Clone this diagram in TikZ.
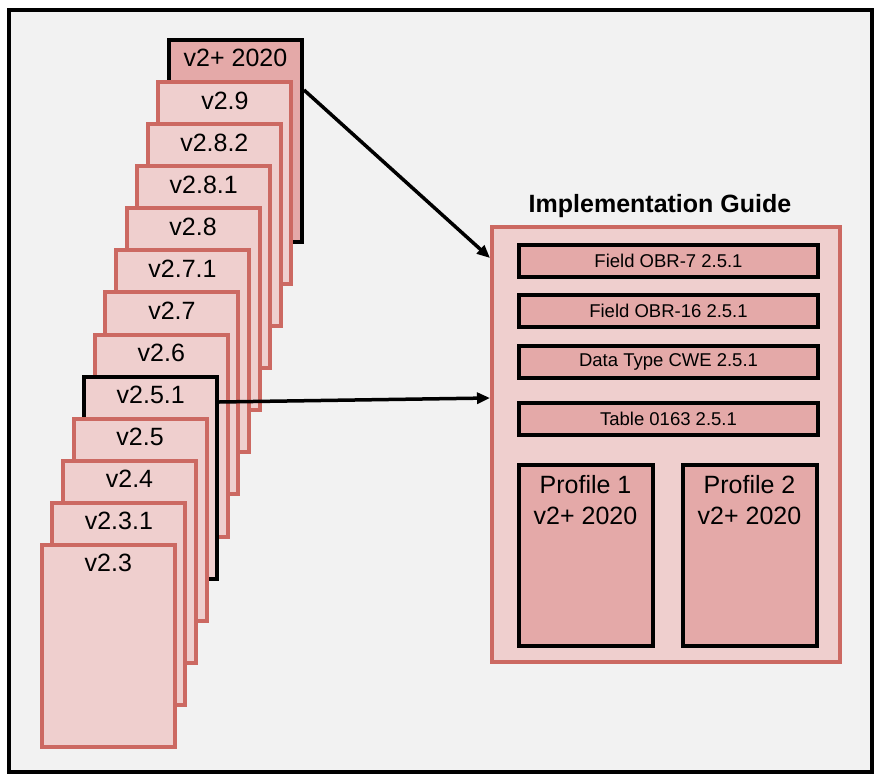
\documentclass[tikz,border=0pt]{standalone}
\usepackage{fontspec}
\setmainfont{Liberation Sans}
\usetikzlibrary{arrows.meta}
\definecolor{bgc}{HTML}{F2F2F2}
\definecolor{pagefill}{HTML}{EFCFCE}
\definecolor{darkfill}{HTML}{E4A9A8}
\definecolor{redline}{HTML}{CC6962}
\tikzset{
  pagebox/.style={draw=redline, fill=pagefill, line width=4pt, minimum width=133pt, minimum height=202pt, inner sep=0pt, anchor=north west},
  selpage/.style={pagebox, draw=black},
  toppage/.style={pagebox, draw=black, fill=darkfill},
  vlabel/.style={anchor=base, font=\fontsize{25}{30}\selectfont, inner sep=0pt},
  guidebox/.style={draw=redline, fill=pagefill, line width=4pt, inner sep=0pt},
  barbox/.style={draw=black, fill=darkfill, line width=4pt, minimum width=299pt, minimum height=32pt, inner sep=0pt, font=\fontsize{18.5}{22}\selectfont},
  profbox/.style={draw=black, fill=darkfill, line width=4pt, minimum width=134pt, minimum height=181pt, inner sep=0pt},
  proftext/.style={anchor=base, align=center, inner sep=0pt, font=\fontsize{25}{31}\selectfont},
  link/.style={line width=3.5pt, -{Triangle[length=13pt,width=11pt]}}
}
\begin{document}
\begin{tikzpicture}[x=1pt,y=-1pt]
\useasboundingbox (0,0) rectangle (882,783);
\fill[white] (0,0) rectangle (882,783);
\draw[fill=bgc, line width=4pt] (9,10) rectangle (872,772);
% stack of pages, back to front
\foreach \i/\t/\s in {0/v2+ 2020/toppage, 1/v2.9/pagebox, 2/v2.8.2/pagebox, 3/v2.8.1/pagebox, 4/v2.8/pagebox, 5/v2.7.1/pagebox, 6/v2.7/pagebox, 7/v2.6/pagebox, 8/v2.5.1/selpage, 9/v2.5/pagebox, 10/v2.4/pagebox, 11/v2.3.1/pagebox, 12/v2.3/pagebox}{
  \node[\s] (p\i) at ({167-10.6*\i},{38+42.08*\i}) {};
  \node[vlabel] (t\i) at ([yshift=-29pt]p\i.north) {\t};
}
% implementation guide
\node[anchor=base, inner sep=0pt, font=\bfseries\fontsize{25}{30}\selectfont] (title) at (660,213) {Implementation Guide};
\node[guidebox, minimum width=348pt, minimum height=435pt] (guide) at (666,444.5) {};
\node[barbox] (b1) at (668.5,261) {Field OBR-7 2.5.1};
\node[barbox] (b2) at (668.5,311) {Field OBR-16 2.5.1};
\node[barbox] (b3) at (668.5,362) {Data Type CWE 2.5.1};
\node[barbox] (b4) at (668.5,419) {Table 0163 2.5.1};
\node[profbox] (pr1) at (585.5,555.5) {};
\node[profbox] (pr2) at (749.5,555.5) {};
\node[proftext] (pt1) at ([yshift=-61.5pt]pr1.north) {Profile 1\\v2+ 2020};
\node[proftext] (pt2) at ([yshift=-61.5pt]pr2.north) {Profile 2\\v2+ 2020};
% connectors
\coordinate (a1s) at (p0.east |- 0,90);
\coordinate (a1e) at (guide.west |- 0,258);
\coordinate (a2s) at (p8.east |- 0,402);
\coordinate (a2e) at (guide.west |- 0,398);
\draw[link] (a1s) -- (a1e);
\draw[link] (a2s) -- (a2e);
\end{tikzpicture}
\end{document}
